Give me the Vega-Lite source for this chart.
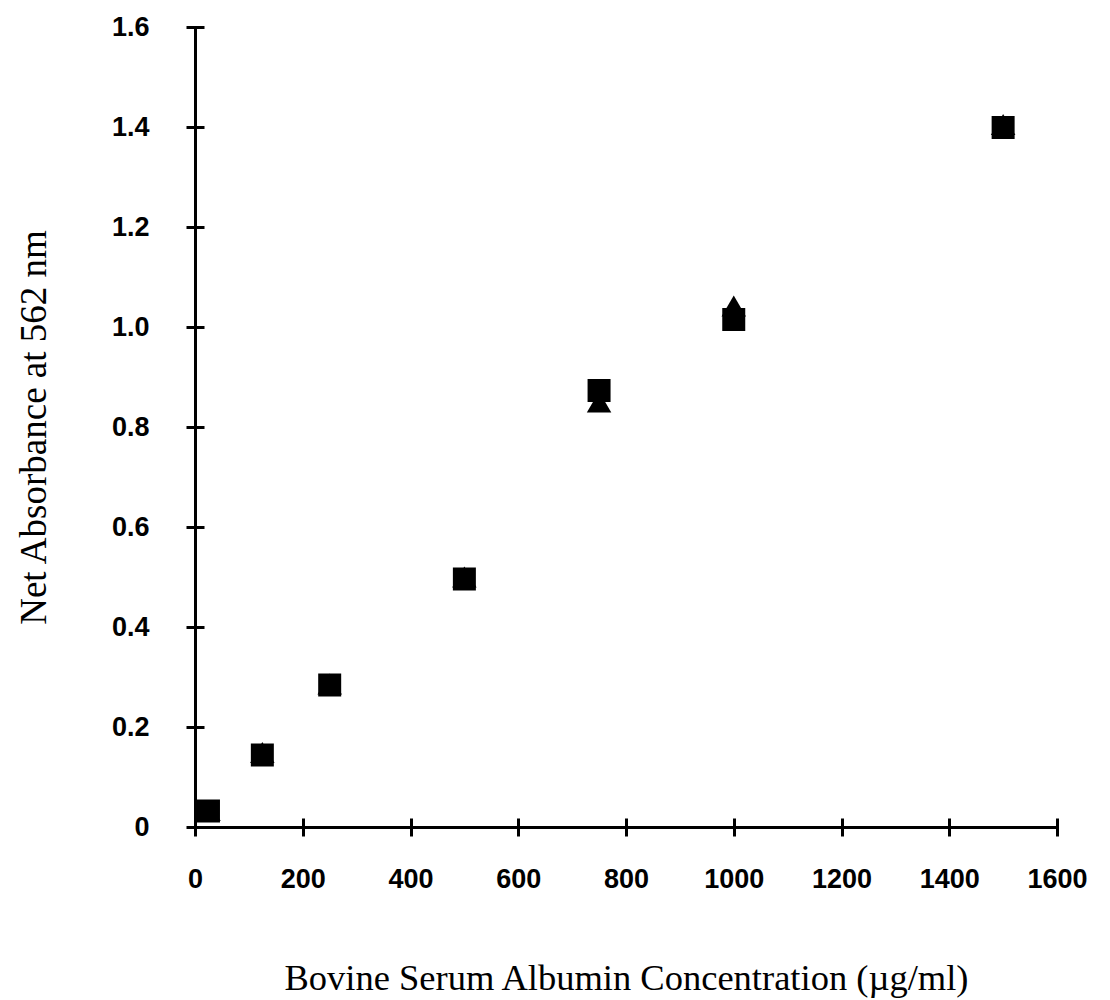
{
  "$schema": "https://vega.github.io/schema/vega-lite/v6.json",
  "autosize": {"type": "none"},
  "padding": {"left": 195, "top": 27, "right": 53, "bottom": 173},
  "width": 862,
  "height": 800,
  "background": "white",
  "config": {
    "view": {"stroke": null},
    "axis": {"grid": false, "domainColor": "black", "tickColor": "black", "labelColor": "black", "titleColor": "black"}
  },
  "data": {
    "values": [
      {"conc": 25, "absorb": 0.033, "series": "triangle"},
      {"conc": 125, "absorb": 0.149, "series": "triangle"},
      {"conc": 250, "absorb": 0.286, "series": "triangle"},
      {"conc": 500, "absorb": 0.5, "series": "triangle"},
      {"conc": 750, "absorb": 0.85, "series": "triangle"},
      {"conc": 1000, "absorb": 1.042, "series": "triangle"},
      {"conc": 1500, "absorb": 1.405, "series": "triangle"},
      {"conc": 25, "absorb": 0.032, "series": "square"},
      {"conc": 125, "absorb": 0.144, "series": "square"},
      {"conc": 250, "absorb": 0.284, "series": "square"},
      {"conc": 500, "absorb": 0.496, "series": "square"},
      {"conc": 750, "absorb": 0.873, "series": "square"},
      {"conc": 1000, "absorb": 1.015, "series": "square"},
      {"conc": 1500, "absorb": 1.399, "series": "square"}
    ]
  },
  "resolve": {"axis": {"x": "independent", "y": "independent"}},
  "layer": [
    {
      "transform": [{"filter": "datum.series === 'triangle'"}],
      "mark": {"type": "point", "shape": "triangle-up", "filled": true, "size": 600, "color": "black", "opacity": 1},
      "encoding": {
        "x": {
          "field": "conc", "type": "quantitative",
          "scale": {"domain": [0, 1600], "nice": false, "zero": false},
          "axis": {
            "orient": "bottom",
            "title": "Bovine Serum Albumin Concentration (µg/ml)",
            "values": [0, 200, 400, 600, 800, 1000, 1200, 1400, 1600],
            "format": "d",
            "ticks": false, "domainWidth": 3,
            "labelFont": "Liberation Sans", "labelFontSize": 27, "labelFontWeight": "bold", "labelPadding": 39, "labelBaseline": "top",
            "labelFlush": false, "labelOverlap": false,
            "titleFont": "Liberation Serif", "titleFontSize": 36.5, "titleFontWeight": "normal", "titlePadding": 68
          }
        },
        "y": {
          "field": "absorb", "type": "quantitative",
          "scale": {"domain": [0, 1.6], "nice": false, "zero": false},
          "axis": {
            "orient": "left",
            "title": "Net Absorbance at 562 nm",
            "values": [0, 0.2, 0.4, 0.6, 0.8, 1.0, 1.2, 1.4, 1.6],
            "labelExpr": "datum.value == 0 ? '0' : format(datum.value, '.1f')",
            "ticks": false, "domainWidth": 3,
            "labelFont": "Liberation Sans", "labelFontSize": 27, "labelFontWeight": "bold", "labelPadding": 46,
            "labelFlush": false, "labelOverlap": false,
            "titleFont": "Liberation Serif", "titleFontSize": 37, "titleFontWeight": "normal", "titlePadding": 58
          }
        }
      }
    },
    {
      "transform": [{"filter": "datum.series === 'square'"}],
      "mark": {"type": "point", "shape": "square", "filled": true, "size": 529, "color": "black", "opacity": 1},
      "encoding": {
        "x": {
          "field": "conc", "type": "quantitative",
          "axis": {
            "orient": "bottom", "title": null, "labels": false, "domain": false,
            "values": [0, 200, 400, 600, 800, 1000, 1200, 1400, 1600],
            "ticks": true, "tickSize": 18, "tickWidth": 3, "offset": -9
          }
        },
        "y": {
          "field": "absorb", "type": "quantitative",
          "axis": {
            "orient": "left", "title": null, "labels": false, "domain": false,
            "values": [0, 0.2, 0.4, 0.6, 0.8, 1.0, 1.2, 1.4, 1.6],
            "ticks": true, "tickSize": 18, "tickWidth": 3, "offset": -9
          }
        }
      }
    }
  ]
}
